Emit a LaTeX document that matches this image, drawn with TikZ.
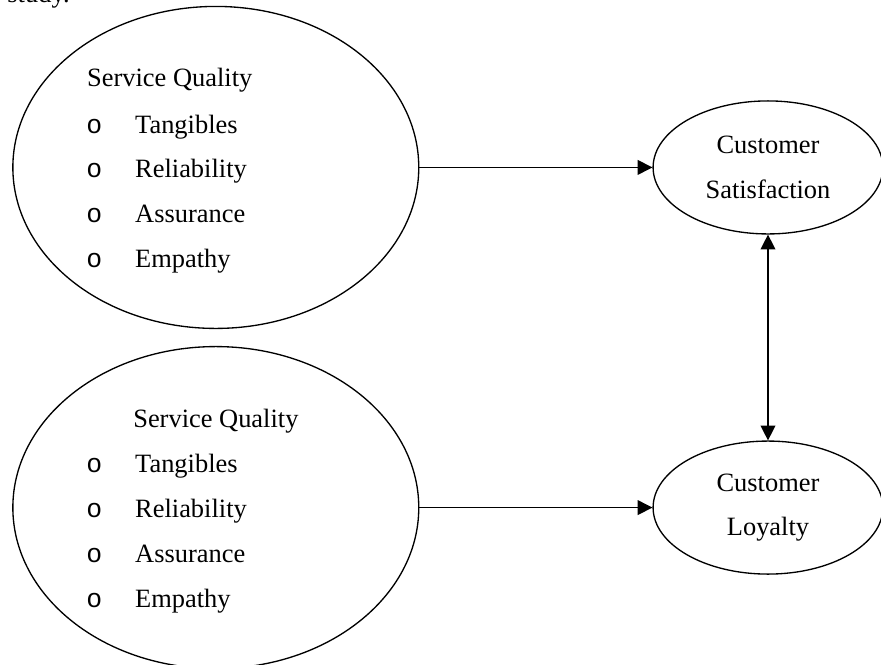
\documentclass[tikz,border=0pt]{standalone}
\usepackage{fontspec}
\setmainfont{Liberation Serif}
\newfontfamily\bulletfont{Liberation Mono}
\usepackage{tikz}
\usetikzlibrary{shapes.geometric}
\usetikzlibrary{arrows.meta}

\begin{document}
\begin{tikzpicture}
  [
    big/.style={ellipse, draw=black, line width=1pt,
    minimum width=10.74cm, minimum height=8.52cm, inner sep=0pt},
    small/.style={ellipse, draw=black, line width=1pt,
    minimum width=6.08cm, minimum height=3.52cm, inner sep=0pt,
    align=center, font=\fontsize{19.9}{33.8}\selectfont},
    txt/.style={anchor=base west, inner sep=0pt, font=\fontsize{19.9}{24}\selectfont},
    bul/.style={anchor=base west, inner sep=0pt, font=\bulletfont\fontsize{19.9}{24}\selectfont},
    ld/.style={draw=black, line width=1pt, -{Triangle[length=3.9mm,width=3.9mm]}}
  ]
  \useasboundingbox (0,0) rectangle (23.31,-17.59);

  \node (cut) at (0.19,-0.07) [txt] {study.};

  \node (sq1) at ( 5.71,-4.43)  [big]   {};
  \node (sq2) at ( 5.71,-13.43) [big]   {};
  \node (sat) at (20.32,-4.43)  [small] {Customer\\Satisfaction};
  \node (loy) at (20.32,-13.43) [small] {Customer\\Loyalty};

  \node (h1)  at (2.30,-2.28)  [txt] {Service Quality};
  \node (b11) at (2.28,-3.52)  [bul] {o};
  \node (i11) at (3.57,-3.52)  [txt] {Tangibles};
  \node (b12) at (2.28,-4.70)  [bul] {o};
  \node (i12) at (3.57,-4.70)  [txt] {Reliability};
  \node (b13) at (2.28,-5.90)  [bul] {o};
  \node (i13) at (3.57,-5.90)  [txt] {Assurance};
  \node (b14) at (2.28,-7.09)  [bul] {o};
  \node (i14) at (3.57,-7.09)  [txt] {Empathy};

  \node (h2)  at (3.52,-11.30) [txt] {Service Quality};
  \node (b21) at (2.28,-12.49) [bul] {o};
  \node (i21) at (3.57,-12.49) [txt] {Tangibles};
  \node (b22) at (2.28,-13.70) [bul] {o};
  \node (i22) at (3.57,-13.70) [txt] {Reliability};
  \node (b23) at (2.28,-14.89) [bul] {o};
  \node (i23) at (3.57,-14.89) [txt] {Assurance};
  \node (b24) at (2.28,-16.08) [bul] {o};
  \node (i24) at (3.57,-16.08) [txt] {Empathy};

  \draw [ld] (sq1.east) -- (sat.west);
  \draw [ld] (sq2.east) -- (loy.west);
  \draw [ld, {Triangle[length=3.9mm,width=3.9mm]}-{Triangle[length=3.9mm,width=3.9mm]}]
        (sat.south) -- (loy.north);
\end{tikzpicture}
\end{document}
